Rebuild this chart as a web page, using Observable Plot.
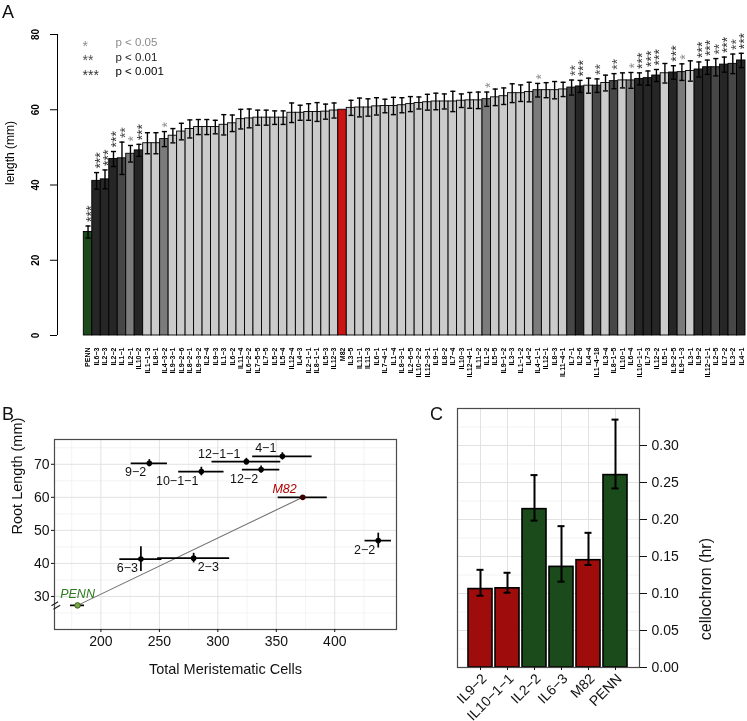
<!DOCTYPE html>
<html><head><meta charset="utf-8">
<script src="https://cdn.jsdelivr.net/npm/d3@7"></script>
<script src="https://cdn.jsdelivr.net/npm/@observablehq/plot@0.6"></script>
<style>
body{margin:0;background:#fff;font-family:"Liberation Sans",Arial,sans-serif;}
#wrap{position:relative;width:747px;height:721px;overflow:hidden;background:#fff;}
.panel{position:absolute;will-change:transform;}
.panel svg{overflow:visible;}
.tag{position:absolute;font-size:18px;line-height:1;color:#111;}
</style></head><body>
<div id="wrap">
 <div id="pa" class="panel" style="left:0;top:0"></div>
 <div id="pb" class="panel" style="left:0;top:410px"></div>
 <div id="pc" class="panel" style="left:400px;top:395px"></div>
 <div class="tag" style="left:2px;top:3px">A</div>
 <div class="tag" style="left:2px;top:405px">B</div>
 <div class="tag" style="left:430px;top:405px">C</div>
</div>
<script>
const FONT = "Liberation Sans, Arial, sans-serif";

// ---------- Panel A data ----------
const aNames = ["PENN","IL6−3","IL2−3","IL2−2","IL1−1","IL2−1","IL10−2","IL1−1−3","IL8−1","IL4−3−2",
"IL9−3−1","IL9−2−6","IL8−2−1","IL9−3−2","IL2−4","IL9−3","IL1−3","IL6−2","IL11−4","IL6−2−2",
"IL7−5−5","IL7−5","IL5−2","IL5−4","IL12−4","IL4−3","IL2−1−1","IL8−1−1","IL5−3","IL12−3",
"M82","IL3−5","IL11−1","IL11−3","IL6−1","IL7−4−1","IL1−4","IL8−3−1","IL2−6−5","IL10−2−2",
"IL12−3−1","IL9−1","IL8−2","IL7−4","IL10−3","IL12−4−1","IL11−2","IL1−2","IL5−5","IL9−1−2",
"IL3−3","IL1−1−2","IL4−2","IL4−1−1","IL12−1","IL8−3","IL11−4−1","IL7−1","IL2−6","IL4−4",
"IL1−4−18","IL3−4","IL8−1−5","IL10−1","IL6−4","IL10−1−1","IL7−3","IL12−2","IL5−1","IL9−2−5",
"IL9−1−3","IL3−1","IL9−2","IL12−1−1","IL2−5","IL7−2","IL3−2","IL4−1"];
const aMeans = [27.5,41.1,41.5,46.9,47.1,48.3,49.2,51.1,51.1,52.2,
53.1,54.2,54.9,55.4,55.4,55.4,56.0,56.4,57.5,57.7,
57.9,57.9,57.9,57.9,59.2,59.2,59.4,59.4,59.5,59.8,
60.0,60.5,60.6,60.6,60.9,61.0,61.0,61.2,61.5,61.8,
62.0,62.2,62.2,62.2,62.4,62.5,62.5,62.8,63.3,63.6,
64.4,64.4,64.7,65.2,65.2,65.2,65.4,65.9,66.2,66.4,
66.4,67.1,67.6,67.8,67.8,68.2,68.4,69.1,69.7,69.9,
70.0,70.3,70.7,71.3,71.3,72.0,72.2,73.1];
const aSE = [1.6,2.2,2.5,2.0,4.3,2.2,1.6,2.8,2.8,2.0,
1.9,2.2,2.4,2.0,2.0,1.8,2.7,2.2,2.6,2.5,
2.0,2.0,1.8,1.8,2.6,2.0,2.2,2.5,2.0,2.0,
0,2.0,2.5,2.3,2.3,1.8,2.3,2.0,2.0,1.6,
2.1,2.2,2.0,2.7,1.8,2.1,2.2,1.9,2.2,2.2,
2.5,2.2,2.6,1.8,2.0,2.3,1.9,2.0,1.6,2.0,
1.8,2.1,2.0,2.0,2.1,1.6,1.9,1.6,2.6,1.8,
2.2,2.7,2.0,1.9,2.3,2.0,2.6,1.9];
// significance level: 0 none, 1 p<0.05, 2 p<0.01, 3 p<0.001
const aSig = [3,3,3,3,2,1,3,0,0,1,
0,0,0,0,0,0,0,0,0,0,
0,0,0,0,0,0,0,0,0,0,
0,0,0,0,0,0,0,0,0,0,
0,0,0,0,0,0,0,1,0,0,
0,0,0,1,0,0,0,2,3,0,
2,0,2,0,1,3,3,3,0,3,
1,0,3,3,2,3,2,3];
const sigStars = ["", "*", "**", "***"];
const legendLabels = ["p < 0.05", "p < 0.01", "p < 0.001"];
const aTicks = [0, 20, 40, 60, 80];

// ---------- Panel B data ----------
const bNames = ["9−2","10−1−1","12−1−1","4−1","12−2","M82","2−2","6−3","2−3","PENN"];
const bCells = [241.4, 285.9, 324.4, 355.2, 337.0, 372.6, 437.2, 234.2, 279.3, 180.0];
const bCellsErr = [15.5, 19.4, 29.4, 25.4, 16.0, 21.0, 11.3, 18.0, 30.8, 6.0];
const bLength = [70.3, 67.8, 70.8, 72.4, 68.4, 60.0, 46.9, 41.3, 41.6, 27.3];
const bLengthErr = [1.1, 1.3, 1.0, 1.1, 1.1, 0.3, 2.25, 3.75, 1.45, 0.5];
const bXTicks = [200, 250, 300, 350, 400];
const bYTicks = [30, 40, 50, 60, 70];

// ---------- Panel C data ----------
const cNames = ["IL9−2","IL10−1−1","IL2−2","IL6−3","M82","PENN"];
const cMeans = [0.106, 0.107, 0.214, 0.136, 0.145, 0.260];
const cLow   = [0.097, 0.101, 0.1985, 0.116, 0.1385, 0.242];
const cHigh  = [0.132, 0.128, 0.260, 0.191, 0.182, 0.335];
const cParent = ["M82","M82","PENN","PENN","M82","PENN"];
const cTicks = [0, 0.05, 0.10, 0.15, 0.20, 0.25, 0.30];

// ---------- styles ----------
const GREEN_A = "#1d4a1d", RED_A = "#cc1414";
const sigFill = ["#cbcbcb", "#7b7b7b", "#474747", "#262626"];
const starFill = ["#000", "#8c8c8c", "#4d4d4d", "#333333"];
const legendText = ["#8c8c8c", "#222222", "#000000"];

// ---------- Panel A ----------
const aRows = aNames.map((name, i) => ({i, name, mean: aMeans[i], se: aSE[i], sig: aSig[i]}));
const aFill = d => d.name === "PENN" ? GREEN_A : d.name === "M82" ? RED_A : sigFill[d.sig];
const withErr = aRows.filter(d => d.se > 0);
const xLo = -3.1;
const plotA = Plot.plot({
  width: 747, height: 410,
  marginLeft: 57, marginRight: 2, marginTop: 34, marginBottom: 75,
  style: {fontFamily: FONT, background: "transparent", color: "#000"},
  x: {domain: [xLo, aNames.length], axis: null},
  y: {domain: [0, 80], axis: null},
  color: {type: "identity"},
  marks: [
    Plot.rectY(aRows, {x1: "i", x2: d => d.i + 1, y1: 0, y2: "mean", fill: aFill, stroke: "#000", strokeWidth: 0.9}),
    Plot.ruleX(withErr, {x: d => d.i + 0.5, y1: d => d.mean - d.se, y2: d => d.mean + d.se, stroke: "#000", strokeWidth: 1.4}),
    Plot.link(withErr, {x1: d => d.i + 0.2, x2: d => d.i + 0.8, y1: d => d.mean + d.se, y2: d => d.mean + d.se, stroke: "#000", strokeWidth: 1.4}),
    Plot.link(withErr, {x1: d => d.i + 0.2, x2: d => d.i + 0.8, y1: d => d.mean - d.se, y2: d => d.mean - d.se, stroke: "#000", strokeWidth: 1.4}),
    Plot.text(aRows.filter(d => d.sig > 0), {x: d => d.i + 0.5, y: d => d.mean + d.se, text: d => sigStars[d.sig],
      fill: d => starFill[d.sig], rotate: -90, textAnchor: "start", lineAnchor: "middle", fontSize: 14, dx: 3.5, dy: -4}),
    Plot.ruleX([xLo], {y1: aTicks[0], y2: aTicks[aTicks.length - 1], stroke: "#000", strokeWidth: 1}),
    Plot.axisY({ticks: aTicks, tickSize: 7, tickFormat: () => "", label: null}),
    Plot.text(aTicks, {y: d => d, text: d => String(d), frameAnchor: "left", rotate: -90, textAnchor: "middle",
      lineAnchor: "middle", dx: -22, fontSize: 10, fontWeight: "bold"}),
    Plot.axisX({ticks: aRows.map(d => d.i + 0.5), tickFormat: v => aNames[Math.floor(v)], tickSize: 0, tickPadding: 12,
      tickRotate: -90, fontSize: 7, fontWeight: "bold", label: null}),
    Plot.text(["length (mm)"], {text: d => d, frameAnchor: "left", dx: -47, rotate: -90, textAnchor: "start", fontSize: 12}),
    ...legendLabels.map((lab, k) => Plot.text([lab], {text: d => d, frameAnchor: "top-left", textAnchor: "start", lineAnchor: "middle",
      dx: 58, dy: 8 + 14.5 * k, fontSize: 11.5, fill: legendText[k]})),
    ...legendLabels.map((lab, k) => Plot.text([sigStars[k + 1]], {text: d => d, frameAnchor: "top-left", textAnchor: "start", lineAnchor: "middle",
      dx: 25, dy: 12 + 14.5 * k, fontSize: 14, fill: starFill[k + 1]}))
  ]
});
document.getElementById("pa").appendChild(plotA);

// ---------- Panel B ----------
const bRows = bNames.map((name, i) => ({name, cells: bCells[i], ce: bCellsErr[i], len: bLength[i], le: bLengthErr[i]}));
const bSide = {"9−2": "bl", "10−1−1": "bl", "12−2": "bl", "6−3": "bl", "2−2": "bl",
               "12−1−1": "al", "4−1": "al", "M82": "al", "2−3": "br", "PENN": "ac"};
const sideStyle = {bl: {textAnchor: "end", dx: -3, dy: 9}, al: {textAnchor: "end", dx: -6, dy: -8},
                   br: {textAnchor: "start", dx: 4, dy: 9}, ac: {textAnchor: "middle", dx: 0, dy: -11}};
const labelColor = {"M82": "#b30000", "PENN": "#2e7a1e"};
const bMinorX = bXTicks.map(t => t - 25).concat([bXTicks[bXTicks.length - 1] + 25]);
const bMinorY = bYTicks.map(t => t - 5).concat([bYTicks[bYTicks.length - 1] + 5]);
const labelMarks = Object.keys(sideStyle).map(side => {
  const rows = bRows.filter(d => bSide[d.name] === side);
  const s = sideStyle[side];
  return Plot.text(rows, {x: "cells", y: "len", text: "name", textAnchor: s.textAnchor, dx: s.dx, dy: s.dy,
    fontSize: 12.5, fill: d => labelColor[d.name] || "#111",
    fontWeight: d => d.name === "M82" || d.name === "PENN" ? "bold" : "normal"});
});
const plotB = Plot.plot({
  width: 440, height: 311,
  marginLeft: 54, marginRight: 44, marginTop: 29, marginBottom: 92,
  style: {fontFamily: FONT, background: "transparent", color: "#111"},
  x: {domain: [160.3, 452.8], axis: null},
  y: {domain: [20, 77.5], axis: null},
  color: {type: "identity"},
  marks: [
    Plot.ruleX(bMinorX, {stroke: "#f0f0f0", strokeWidth: 0.8}),
    Plot.ruleY(bMinorY, {stroke: "#f0f0f0", strokeWidth: 0.8}),
    Plot.ruleX(bXTicks, {stroke: "#e2e2e2", strokeWidth: 1}),
    Plot.ruleY(bYTicks, {stroke: "#e2e2e2", strokeWidth: 1}),
    Plot.line(bRows.filter(d => d.name === "PENN" || d.name === "M82"), {x: "cells", y: "len", stroke: "#707070", strokeWidth: 1.1}),
    Plot.ruleY(bRows, {y: "len", x1: d => d.cells - d.ce, x2: d => d.cells + d.ce, stroke: "#000", strokeWidth: 1.7}),
    Plot.ruleX(bRows, {x: "cells", y1: d => d.len - d.le, y2: d => d.len + d.le, stroke: "#000", strokeWidth: 1.7}),
    Plot.dot(bRows, {x: "cells", y: "len", r: 2.8, fill: d => d.name === "PENN" ? "#79a843" : d.name === "M82" ? "#3a0000" : "#000",
      stroke: d => d.name === "PENN" ? "#2d4d12" : "none", strokeWidth: 0.8}),
    ...labelMarks,
    Plot.frame({stroke: "#4a4a4a", strokeWidth: 1.2}),
    Plot.text(["="], {text: d => d, frameAnchor: "bottom-left", dy: -17, rotate: -31, fontSize: 16, fill: "#222"}),
    Plot.axisX({ticks: bXTicks, tickSize: 3, tickPadding: 4, fontSize: 14, label: null}),
    Plot.axisY({ticks: bYTicks, tickSize: 3, tickPadding: 2, fontSize: 14, label: null}),
    Plot.text(["Total Meristematic Cells"], {text: d => d, frameAnchor: "bottom", dy: 44, fontSize: 14.5}),
    Plot.text(["Root Length (mm)"], {text: d => d, frameAnchor: "left", dx: -37, rotate: -90, fontSize: 14.5})
  ]
});
plotB.querySelectorAll("text").forEach(t => {
  if (t.textContent === "M82" || t.textContent === "PENN") t.setAttribute("font-style", "italic");
});
document.getElementById("pb").appendChild(plotB);

// ---------- Panel C ----------
const cRows = cNames.map((name, i) => ({name, mean: cMeans[i], lo: cLow[i], hi: cHigh[i], parent: cParent[i]}));
const cMinor = cTicks.map(t => t + 0.025);
const plotC = Plot.plot({
  width: 347, height: 326,
  marginLeft: 57, marginRight: 108, marginTop: 13, marginBottom: 54,
  style: {fontFamily: FONT, background: "transparent", color: "#111"},
  x: {domain: cNames, paddingInner: 0.107, paddingOuter: 0.33, axis: null},
  y: {domain: [0, 0.35], axis: null},
  color: {domain: ["M82", "PENN"], range: ["#9e0c0c", "#1b4a1b"]},
  marks: [
    Plot.ruleY(cMinor, {stroke: "#f0f0f0", strokeWidth: 0.8}),
    Plot.ruleY(cTicks, {stroke: "#e2e2e2", strokeWidth: 1}),
    Plot.gridX({stroke: "#e2e2e2", strokeOpacity: 1, strokeWidth: 1}),
    Plot.barY(cRows, {x: "name", y: "mean", fill: "parent", stroke: "#000", strokeWidth: 1.6}),
    Plot.ruleX(cRows, {x: "name", y1: "lo", y2: "hi", stroke: "#000", strokeWidth: 2}),
    Plot.tickY(cRows, {x: "name", y: "hi", insetLeft: 8.5, insetRight: 8.5, stroke: "#000", strokeWidth: 2}),
    Plot.tickY(cRows, {x: "name", y: "lo", insetLeft: 8.5, insetRight: 8.5, stroke: "#000", strokeWidth: 2}),
    Plot.frame({stroke: "#4a4a4a", strokeWidth: 1.2}),
    Plot.axisX({tickSize: 3, tickFormat: () => "", label: null}),
    Plot.text(cNames, {x: d => d, text: d => d, frameAnchor: "bottom", rotate: -45, textAnchor: "end", lineAnchor: "top", dy: 5, fontSize: 14}),
    Plot.axisY({anchor: "right", ticks: cTicks, tickFormat: d3.format(".2f"), tickSize: 7, tickPadding: 5, fontSize: 14, label: null}),
    Plot.text(["cellochron (hr)"], {text: d => d, frameAnchor: "right", dx: 66, rotate: -90, fontSize: 16})
  ]
});
document.getElementById("pc").appendChild(plotC);
</script>
</body></html>
